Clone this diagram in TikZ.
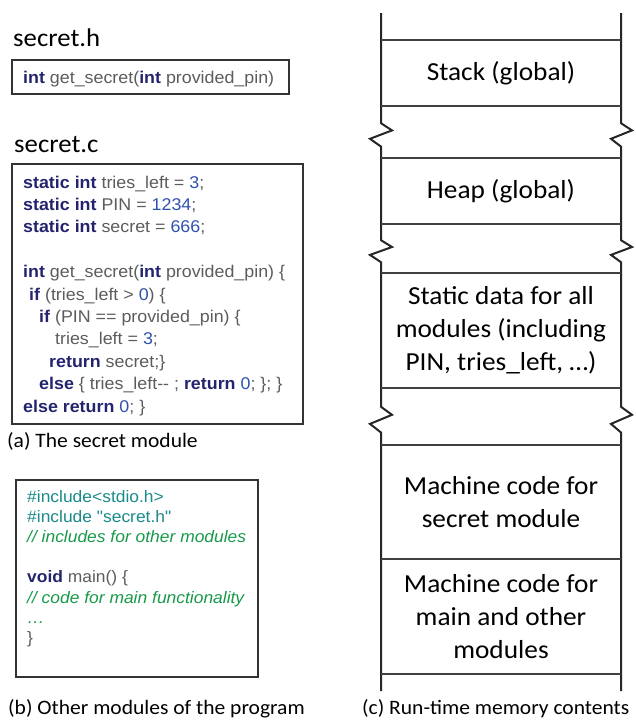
\documentclass[tikz,border=0pt]{standalone}
\usepackage{fontspec}
\setmainfont{Carlito}[FakeStretch=1.05]
\newfontfamily\codefont{Liberation Sans}[FakeStretch=1.05]
\usetikzlibrary{calc}

\definecolor{kwcol}{HTML}{24246E}
\definecolor{txtcol}{HTML}{5C5C5C}
\definecolor{numcol}{HTML}{2E52AE}
\definecolor{inccol}{HTML}{1A8A8A}
\definecolor{cmtcol}{HTML}{17994A}
\definecolor{framecol}{HTML}{333333}

\newcommand\codekw[1]{{\bfseries\color{kwcol}#1}}
\newcommand\codenum[1]{{\color{numcol}#1}}
\newcommand\codeinc[1]{{\color{inccol}#1}}
\newcommand\codecmt[1]{{\itshape\color{cmtcol}#1}}

\tikzset{
  codebox/.style={draw=framecol, line width=1.3pt},
  codeline/.style={anchor=base west, inner sep=0pt, text=txtcol,
    font=\codefont\fontsize{16.6}{20}\selectfont},
  seccode/.style={codeline, font=\codefont\fontsize{17}{20}\selectfont},
  filelabel/.style={anchor=base west, inner sep=0pt,
    font=\fontsize{25.5}{30}\selectfont},
  caption/.style={anchor=base west, inner sep=0pt,
    font=\fontsize{20.5}{24}\selectfont},
  memtext/.style={align=center, inner sep=0pt,
    font=\fontsize{26}{33}\selectfont},
  memedge/.style={line width=2pt, line join=miter, black!85},
  memsep/.style={line width=1.3pt, black!75},
}

\begin{document}
\begin{tikzpicture}[x=1pt, y=-1pt]
\useasboundingbox (0,0) rectangle (636,721);

% ---- secret.h ----
\node[filelabel] (hlabel) at (13,46.5) {secret.h};
\draw[codebox] (12,60) rectangle (289,94);
\node[seccode] (hproto) at (23,83)
  {\codekw{int} get\_secret(\codekw{int} provided\_pin)};

% ---- secret.c ----
\node[filelabel] (clabel) at (14,152) {secret.c};
\draw[codebox] (12,164) rectangle (303,424);
\node[seccode] (c1) at (23,188.0) {\codekw{static int} tries\_left = \codenum{3};};
\node[seccode] (c2) at (23,210.4) {\codekw{static int} PIN = \codenum{1234};};
\node[seccode] (c3) at (23,232.8) {\codekw{static int} secret = \codenum{666};};
\node[seccode] (c4) at (23,277.6) {\codekw{int} get\_secret(\codekw{int} provided\_pin) \{};
\node[seccode] (c5) at (29,300.0) {\codekw{if} (tries\_left > \codenum{0}) \{};
\node[seccode] (c6) at (39,322.4) {\codekw{if} (PIN == provided\_pin) \{};
\node[seccode] (c7) at (55,344.8) {tries\_left = \codenum{3};};
\node[seccode] (c8) at (49,367.2) {\codekw{return} secret;\}};
\node[seccode] (c9) at (39,389.6) {\codekw{else} \{ tries\_left-{}- ; \codekw{return} \codenum{0}; \}; \}};
\node[seccode] (c10) at (23,412.0) {\codekw{else return} \codenum{0}; \}};
\node[caption] (capa) at (7,447) {(a) The secret module};

% ---- other modules ----
\draw[codebox] (16,480) rectangle (258,677);
\node[codeline] (m1) at (27,502.0) {\codeinc{\#include<stdio.h>}};
\node[codeline] (m2) at (27,522.2) {\codeinc{\#include "secret.h"}};
\node[codeline] (m3) at (27,542.4) {\codecmt{// includes for other modules}};
\node[codeline] (m4) at (27,582.8) {\codekw{void} main() \{};
\node[codeline] (m5) at (27,603.0) {\codecmt{// code for main functionality}};
\node[codeline] (m6) at (27,623.2) {\codecmt{…}};
\node[codeline] (m7) at (27,643.4) {\}};
\node[caption] (capb) at (8,714) {(b) Other modules of the program};

% ---- run-time memory ----
% side edges, broken by zigzags in the unused gaps
\draw[memedge] (381,13) -- (381,123.2) -- (392,130.4) -- (370,138.8) -- (381,146.6)
  -- (381,240.2) -- (392,247.0) -- (370,254.9) -- (381,262.2)
  -- (381,406.8) -- (392,414.8) -- (370,423.9) -- (381,432.5)
  -- (381,691);
\draw[memedge] (621,13) -- (621,123.2) -- (632,130.4) -- (611,138.8) -- (621,146.6)
  -- (621,240.2) -- (632,247.0) -- (611,254.9) -- (621,262.2)
  -- (621,406.8) -- (632,414.8) -- (611,423.9) -- (621,432.5)
  -- (621,691);
% region boundaries
\foreach \yy in {40,106,158,224,273,388,445,559,674}
  \draw[memsep] (381,\yy) -- (621,\yy);

\node[memtext] (stack) at (501,73) {Stack (global)};
\node[memtext] (heap) at (501,191) {Heap (global)};
\node[memtext] (static) at (501,330.5) {Static data for all\\modules (including\\PIN, tries\_left, …)};
\node[memtext] (msecret) at (501,502) {Machine code for\\secret module};
\node[memtext] (mmain) at (501,616.5) {Machine code for\\main and other\\modules};
\node[caption] (capc) at (362,714) {(c) Run-time memory contents};
\end{tikzpicture}
\end{document}
